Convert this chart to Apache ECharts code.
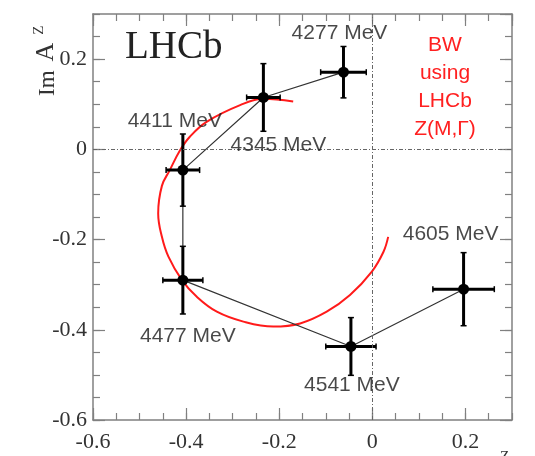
<!DOCTYPE html>
<html>
<head>
<meta charset="utf-8">
<script src="https://cdn.jsdelivr.net/npm/echarts@6/dist/echarts.min.js"></script>
<style>
  html,body{margin:0;padding:0;background:#fff;}
  #chart{width:535px;height:456px;}
</style>
</head>
<body>
<div id="chart"></div>
<script>
// measured amplitude points (Argand plane)
var masses = ['4277 MeV', '4345 MeV', '4411 MeV', '4477 MeV', '4541 MeV', '4605 MeV'];
var reA = [-0.062, -0.234, -0.407, -0.407, -0.046, 0.196];
var imA = [0.171, 0.115, -0.046, -0.290, -0.437, -0.310];
var reErr = [0.049, 0.036, 0.036, 0.043, 0.054, 0.066];
var imErr = [0.057, 0.075, 0.080, 0.075, 0.064, 0.081];

// BW curve
var bwRe = [-0.170, -0.234, -0.284, -0.356, -0.392, -0.413, -0.435, -0.452, -0.460, -0.452, -0.438,
            -0.409, -0.377, -0.334, -0.277, -0.213, -0.155, -0.098, -0.048, -0.001, 0.024, 0.034];
var bwIm = [0.106, 0.112, 0.098, 0.061, 0.028, -0.002, -0.046, -0.081, -0.142, -0.194, -0.238,
            -0.290, -0.327, -0.360, -0.382, -0.393, -0.386, -0.360, -0.323, -0.271, -0.227, -0.194];

var axMin = -0.6, axMax = 0.3;

var chart = echarts.init(document.getElementById('chart'));

var frameColor = '#808080';
var labelFont = {fontFamily: 'Liberation Serif', fontSize: 22, color: '#333'};

function makeAxis(pos, major, isY){
  var ax = {
    type: 'value',
    position: pos,
    min: axMin,
    max: axMax,
    interval: major ? 0.2 : 0.05,
    splitLine: {show: false},
    axisLine: {show: major, onZero: false, lineStyle: {color: frameColor, width: 1.5}},
    axisTick: {show: true, inside: true, length: major ? 12 : 7, lineStyle: {color: frameColor, width: 1.2}},
    axisLabel: {show: false}
  };
  if (major && (pos === 'bottom' || pos === 'left')) {
    ax.axisLabel = Object.assign({
      show: true,
      margin: isY ? 6 : 11,
      showMaxLabel: false
    }, labelFont);
  }
  return ax;
}

var pts = reA.map(function(x, i){ return [x, imA[i], reErr[i], imErr[i]]; });
var bw = bwRe.map(function(x, i){ return [x, bwIm[i]]; });
// where each mass label sits relative to its point
var labelShift = [[-4, -39], [15, 48], [-8, -49], [5, 56], [1, 39], [-13, -55]];

function renderErr(params, api){
  var x = api.value(0), y = api.value(1), ex = api.value(2), ey = api.value(3);
  var c = api.coord([x, y]);
  var l = api.coord([x - ex, y]), r = api.coord([x + ex, y]);
  var t = api.coord([x, y + ey]), b = api.coord([x, y - ey]);
  var st = {stroke: '#000', lineWidth: 3};
  var cs = {stroke: '#000', lineWidth: 1.5};
  var k = 3;
  return {
    type: 'group',
    children: [
      {type: 'line', shape: {x1: l[0], y1: l[1], x2: r[0], y2: r[1]}, style: st},
      {type: 'line', shape: {x1: t[0], y1: t[1], x2: b[0], y2: b[1]}, style: st},
      {type: 'line', shape: {x1: l[0], y1: l[1] - k, x2: l[0], y2: l[1] + k}, style: cs},
      {type: 'line', shape: {x1: r[0], y1: r[1] - k, x2: r[0], y2: r[1] + k}, style: cs},
      {type: 'line', shape: {x1: t[0] - k, y1: t[1], x2: t[0] + k, y2: t[1]}, style: cs},
      {type: 'line', shape: {x1: b[0] - k, y1: b[1], x2: b[0] + k, y2: b[1]}, style: cs},
      {type: 'circle', shape: {cx: c[0], cy: c[1], r: 5.5}, style: {fill: '#000'}}
    ]
  };
}

var option = {
  backgroundColor: '#fff',
  animation: false,
  grid: {left: 93, right: 23, top: 14, bottom: 36},
  xAxis: [
    makeAxis('bottom', true, false),
    makeAxis('bottom', false, false),
    makeAxis('top', true, false),
    makeAxis('top', false, false)
  ],
  yAxis: [
    makeAxis('left', true, true),
    makeAxis('left', false, true),
    makeAxis('right', true, true),
    makeAxis('right', false, true)
  ],
  graphic: [
    {type: 'text', left: 125, top: 28, style: {text: 'LHCb', font: '39px "Liberation Serif"', fill: '#222'}},
    {type: 'text', x: 445, y: 31, style: {
      text: 'BW\nusing\nLHCb\nZ(M,Γ)', font: '21px "Liberation Sans"', fill: '#ff2020',
      align: 'center', verticalAlign: 'top', lineHeight: 28
    }},
    {type: 'text', x: 48, y: 96, rotation: Math.PI / 2, style: {
      text: '{n|Im}{a|A}{s|Z}', align: 'left', verticalAlign: 'middle',
      rich: {
        n: {fontFamily: 'Liberation Serif', fontSize: 23, fill: '#333'},
        a: {fontFamily: 'Liberation Serif', fontSize: 26, fill: '#333', padding: [0, 0, 3, 9]},
        s: {fontFamily: 'Liberation Serif', fontSize: 15, fill: '#333', padding: [0, 0, 18, 8]}
      }
    }},
    {type: 'text', x: 500, y: 450, style: {text: 'Z', font: '15px "Liberation Serif"', fill: '#333'}}
  ],
  series: [
    {
      type: 'line',
      data: bw,
      smooth: 0.4,
      showSymbol: false,
      lineStyle: {color: '#ff1a1a', width: 2},
      markLine: {
        silent: true,
        symbol: 'none',
        label: {show: false},
        lineStyle: {color: '#666', type: [4, 2, 1, 2], width: 1},
        data: [{xAxis: 0}, {yAxis: 0}]
      },
      z: 2
    },
    {
      type: 'line',
      data: reA.map(function(x, i){ return [x, imA[i]]; }),
      showSymbol: false,
      lineStyle: {color: '#333', width: 1.2},
      z: 3
    },
    {
      type: 'custom',
      renderItem: renderErr,
      data: pts,
      z: 4
    },
    {
      type: 'scatter',
      symbolSize: 0,
      data: pts.map(function(p, i){
        return {
          value: [p[0], p[1]],
          label: {offset: labelShift[i]}
        };
      }),
      label: {
        show: true,
        position: 'inside',
        formatter: function(p){ return masses[p.dataIndex]; },
        fontFamily: 'Liberation Sans',
        fontSize: 21,
        color: '#1a1a1a'
      },
      z: 5
    }
  ]
};

chart.setOption(option);
</script>
</body>
</html>
